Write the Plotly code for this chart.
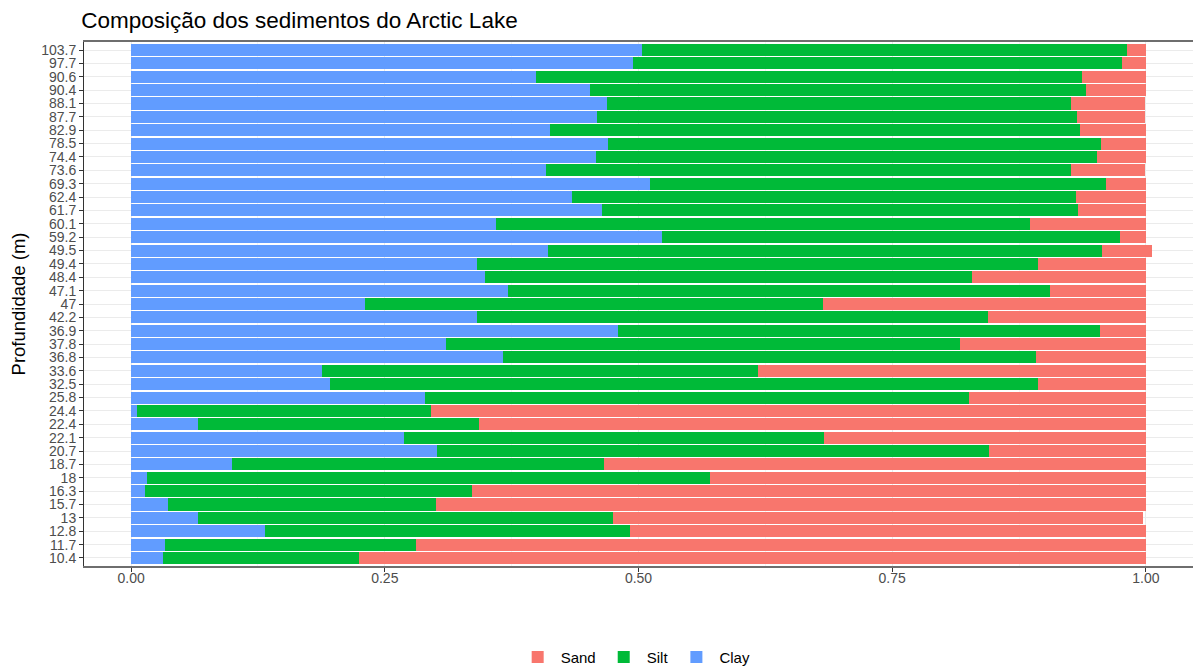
import plotly.graph_objects as go

# depth labels, bottom to top (order as in the source factor)
depths = ["10.4", "11.7", "12.8", "13", "15.7", "16.3", "18", "18.7", "20.7", "22.1",
          "22.4", "24.4", "25.8", "32.5", "33.6", "36.8", "37.8", "36.9", "42.2", "47",
          "47.1", "48.4", "49.4", "49.5", "59.2", "60.1", "61.7", "62.4", "69.3", "73.6",
          "74.4", "78.5", "82.9", "87.7", "88.1", "90.4", "90.6", "97.7", "103.7"]

clay = [0.031, 0.033, 0.132, 0.066, 0.036, 0.014, 0.016, 0.099, 0.301, 0.269,
        0.066, 0.006, 0.290, 0.196, 0.188, 0.366, 0.310, 0.480, 0.341, 0.230,
        0.371, 0.349, 0.341, 0.411, 0.523, 0.360, 0.464, 0.434, 0.511, 0.409,
        0.458, 0.470, 0.413, 0.459, 0.469, 0.452, 0.399, 0.495, 0.503]

silt = [0.194, 0.248, 0.360, 0.409, 0.264, 0.322, 0.554, 0.367, 0.544, 0.414,
        0.277, 0.290, 0.536, 0.698, 0.430, 0.526, 0.507, 0.475, 0.503, 0.452,
        0.534, 0.480, 0.553, 0.546, 0.451, 0.526, 0.469, 0.497, 0.450, 0.517,
        0.494, 0.486, 0.522, 0.473, 0.457, 0.489, 0.538, 0.481, 0.478]

sand = [0.775, 0.719, 0.508, 0.522, 0.700, 0.664, 0.430, 0.534, 0.155, 0.317,
        0.657, 0.704, 0.174, 0.106, 0.382, 0.108, 0.183, 0.045, 0.156, 0.318,
        0.095, 0.171, 0.106, 0.049, 0.026, 0.114, 0.067, 0.069, 0.039, 0.073,
        0.048, 0.044, 0.065, 0.067, 0.073, 0.059, 0.063, 0.024, 0.019]

COLORS = {"Sand": "#F8766D", "Silt": "#00BA38", "Clay": "#619CFF"}

fig = go.Figure()
# stacking order: clay first (left), then silt, then sand
for name, vals in [("Clay", clay), ("Silt", silt), ("Sand", sand)]:
    fig.add_trace(go.Bar(
        y=depths, x=vals, name=name, orientation="h",
        marker=dict(color=COLORS[name], line=dict(width=0)),
        width=0.9,
    ))

grid = "#EBEBEB"
fig.update_layout(
    barmode="stack",
    width=1194, height=668,
    paper_bgcolor="white", plot_bgcolor="white",
    font=dict(family="Liberation Sans, Arial, sans-serif", color="#4D4D4D", size=15),
    title=dict(text="Composição dos sedimentos do Arctic Lake", x=0.068, xanchor="left",
               y=0.97, yanchor="middle", font=dict(size=22.5, color="black")),
    margin=dict(l=84, r=1, t=42, b=102),
    legend=dict(orientation="h", x=0.497, xanchor="center",
                yref="container", y=0.016, yanchor="middle",
                traceorder="reversed", font=dict(size=15, color="black"),
                itemwidth=36),
    xaxis=dict(
        range=[-0.0464, 1.0464], tickvals=[0, 0.25, 0.5, 0.75, 1],
        ticktext=["0.00", "0.25", "0.50", "0.75", "1.00"],
        showgrid=True, gridcolor=grid, gridwidth=1,
        minor=dict(tickvals=[0.125, 0.375, 0.625, 0.875], showgrid=True,
                   gridcolor="#F5F5F5", gridwidth=1),
        zeroline=False, automargin=False,
        showline=True, linecolor="#6E6E6E", linewidth=1.5, mirror=True,
        ticks="outside", ticklen=4, tickcolor="#333333", ticklabelstandoff=-6,
        tickfont=dict(size=14, color="#4D4D4D"),
    ),
    yaxis=dict(
        title=dict(text="Profundidade (m)", font=dict(size=18.5, color="black"), standoff=10),
        type="category", categoryorder="array", categoryarray=depths,
        tickmode="linear", tick0=0, dtick=1,
        range=[-0.6, len(depths) - 0.4], automargin=False,
        showgrid=True, gridcolor=grid, gridwidth=1,
        showline=True, linecolor="#333333", linewidth=1,
        ticks="outside", ticklen=4, tickcolor="#333333",
        tickfont=dict(size=14, color="#4D4D4D"),
    ),
)

# drop the browser's default 8px body margin so the figure sits at the page corner
fig.write_html("out.html", config={"displayModeBar": False},
               post_script="document.body.style.margin='0';")
